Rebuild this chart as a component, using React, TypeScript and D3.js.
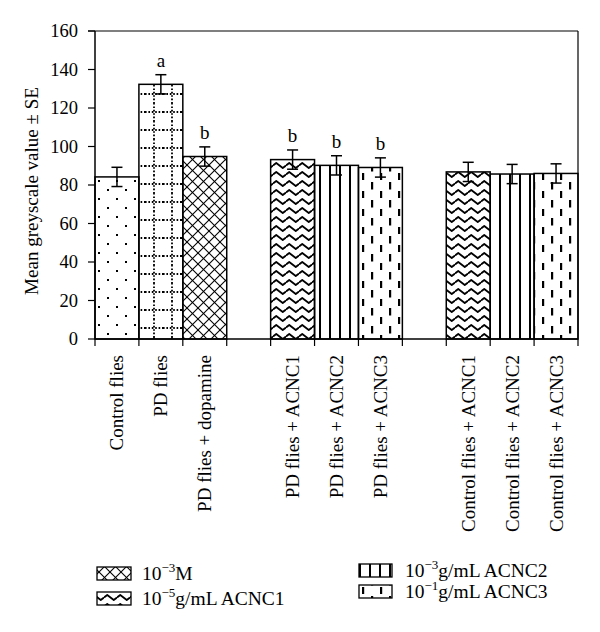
import React from "react";
import * as d3 from "d3";

const categories = [
  "Control flies",
  "PD flies",
  "PD flies + dopamine",
  "",
  "PD flies + ACNC1",
  "PD flies + ACNC2",
  "PD flies + ACNC3",
  " ",
  "Control flies + ACNC1",
  "Control flies + ACNC2",
  "Control flies + ACNC3",
];
const values = [84.2, 132.3, 94.8, null, 93.2, 90.2, 89.1, null, 86.8, 85.7, 86.0];
const errors = [5, 5, 5, null, 5, 5, 5, null, 5, 5, 5];
const letters = ["", "a", "b", "", "b", "b", "b", "", "", "", ""];
const fills = ["dots", "dotgrid", "cross", "", "wave", "vlines", "dashes", "", "wave", "vlines", "dashes"];
const yTicks = [0, 20, 40, 60, 80, 100, 120, 140, 160];
const legendLeft = [
  { fill: "cross", base: "10", exp: "−3", rest: "M" },
  { fill: "wave", base: "10", exp: "−5", rest: "g/mL ACNC1" },
];
const legendRight = [
  { fill: "vlines", base: "10", exp: "−3", rest: "g/mL ACNC2" },
  { fill: "dashes", base: "10", exp: "−1", rest: "g/mL ACNC3" },
];

const FONT = "'Liberation Serif', 'Times New Roman', serif";

export default function App() {
  const left = 95, right = 578, top = 31, bottom = 339;
  const x = d3.scaleBand<string>().domain(categories).range([left, right]).padding(0);
  const y = d3.scaleLinear().domain([0, 160]).range([bottom, top]);
  const bw = x.bandwidth();
  const boundaries = categories.map((c) => x(c) as number).concat([right]);

  const wavePath = "M0,3.5 L3.25,1 L6.5,3.5 L9.75,6 L13,3.5";

  return (
    <svg width={600} height={632} style={{ position: "absolute", left: 0, top: 0, background: "#fff" }}>
      <defs>
        <pattern id="dots" patternUnits="userSpaceOnUse" width={18} height={18} x={left} y={bottom}>
          <rect x={3} y={3} width={2} height={2} fill="#000" />
          <rect x={12} y={12} width={2} height={2} fill="#000" />
        </pattern>
        <pattern id="dotgrid" patternUnits="userSpaceOnUse" width={18} height={18} x={left + 44 - 12} y={bottom - 2}>
          <line x1={0} y1={9} x2={18} y2={9} stroke="#000" strokeWidth={1.8} strokeDasharray="1.6 1.8" />
          <line x1={9} y1={0} x2={9} y2={18} stroke="#000" strokeWidth={1.8} strokeDasharray="1.6 1.8" />
        </pattern>
        <pattern id="cross" patternUnits="userSpaceOnUse" width={11} height={11} x={0} y={0}>
          <line x1={0} y1={0} x2={11} y2={11} stroke="#000" strokeWidth={1.1} />
          <line x1={11} y1={0} x2={0} y2={11} stroke="#000" strokeWidth={1.1} />
        </pattern>
        <pattern id="wave" patternUnits="userSpaceOnUse" width={13} height={9} x={0} y={0}>
          <path d={wavePath} fill="none" stroke="#000" strokeWidth={1.8} strokeLinejoin="round" />
        </pattern>
        <pattern id="vlines" patternUnits="userSpaceOnUse" width={10} height={10} x={left} y={0}>
          <line x1={5} y1={0} x2={5} y2={10} stroke="#000" strokeWidth={2} />
        </pattern>
        <pattern id="dashes" patternUnits="userSpaceOnUse" width={18} height={18} x={left + 2} y={0}>
          <rect x={4} y={2} width={2.2} height={7.5} fill="#000" />
          <rect x={13} y={11} width={2.2} height={7.5} fill="#000" />
        </pattern>
      </defs>

      {/* bars */}
      {categories.map((c, i) =>
        values[i] == null ? null : (
          <rect
            key={"bar" + i}
            x={x(c)}
            y={y(values[i] as number)}
            width={bw}
            height={bottom - y(values[i] as number)}
            fill={`url(#${fills[i]})`}
            stroke="#000"
            strokeWidth={1.5}
          />
        )
      )}

      {/* error bars */}
      {categories.map((c, i) => {
        if (values[i] == null) return null;
        const cx = (x(c) as number) + bw / 2;
        const v = values[i] as number;
        const e = errors[i] as number;
        return (
          <g key={"err" + i} stroke="#000" strokeWidth={1.5}>
            <line x1={cx} x2={cx} y1={y(v + e)} y2={y(v - e)} />
            <line x1={cx - 5.5} x2={cx + 5.5} y1={y(v + e)} y2={y(v + e)} />
            <line x1={cx - 5.5} x2={cx + 5.5} y1={y(v - e)} y2={y(v - e)} />
          </g>
        );
      })}

      {/* letters */}
      {categories.map((c, i) =>
        letters[i] ? (
          <text
            key={"lt" + i}
            x={(x(c) as number) + bw / 2}
            y={y((values[i] as number) + (errors[i] as number)) - 8}
            textAnchor="middle"
            fontFamily={FONT}
            fontSize={19}
          >
            {letters[i]}
          </text>
        ) : null
      )}

      {/* frame */}
      <line x1={left} x2={left} y1={top} y2={bottom} stroke="#000" strokeWidth={1.5} />
      <line x1={left - 7} x2={right} y1={top} y2={top} stroke="#000" strokeWidth={1.2} />
      <line x1={right} x2={right} y1={top} y2={bottom} stroke="#000" strokeWidth={1.2} />
      <line x1={left} x2={right} y1={bottom} y2={bottom} stroke="#000" strokeWidth={1.5} />

      {/* y ticks */}
      {yTicks.map((t) => (
        <g key={"yt" + t}>
          <line x1={left - 7} x2={left} y1={y(t)} y2={y(t)} stroke="#000" strokeWidth={1.2} />
          <text x={78} y={y(t) + 6} textAnchor="end" fontFamily={FONT} fontSize={18.5}>
            {t}
          </text>
        </g>
      ))}

      {/* x ticks */}
      {boundaries.map((bx, i) => (
        <line key={"xt" + i} x1={bx} x2={bx} y1={bottom} y2={bottom + 7} stroke="#000" strokeWidth={1.2} />
      ))}

      {/* x labels */}
      {categories.map((c, i) =>
        c.trim() ? (
          <text
            key={"xl" + i}
            transform={`translate(${(x(c) as number) + bw / 2 + 6.5},${355}) rotate(-90)`}
            textAnchor="end"
            fontFamily={FONT}
            fontSize={19}
          >
            {c}
          </text>
        ) : null
      )}

      {/* y label */}
      <text
        transform={`translate(38,${191}) rotate(-90)`}
        textAnchor="middle"
        fontFamily={FONT}
        fontSize={19}
      >
        Mean greyscale value ± SE
      </text>

      {/* legend */}
      {legendLeft.map((l, i) => (
        <g key={"ll" + i}>
          <rect x={97} y={567 + i * 25} width={34} height={13} fill={`url(#${l.fill})`} stroke="#000" strokeWidth={1.3} />
          <text x={142} y={580 + i * 25} fontFamily={FONT} fontSize={19.5}>
            {l.base}
            <tspan dy={-8} fontSize={13}>{l.exp}</tspan>
            <tspan dy={8}>{l.rest}</tspan>
          </text>
        </g>
      ))}
      {legendRight.map((l, i) => (
        <g key={"lr" + i}>
          <rect x={359} y={564 + i * 21} width={33} height={13} fill={`url(#${l.fill})`} stroke="#000" strokeWidth={1.3} />
          <text x={405} y={577 + i * 21} fontFamily={FONT} fontSize={19.5}>
            {l.base}
            <tspan dy={-8} fontSize={13}>{l.exp}</tspan>
            <tspan dy={8}>{l.rest}</tspan>
          </text>
        </g>
      ))}
    </svg>
  );
}
